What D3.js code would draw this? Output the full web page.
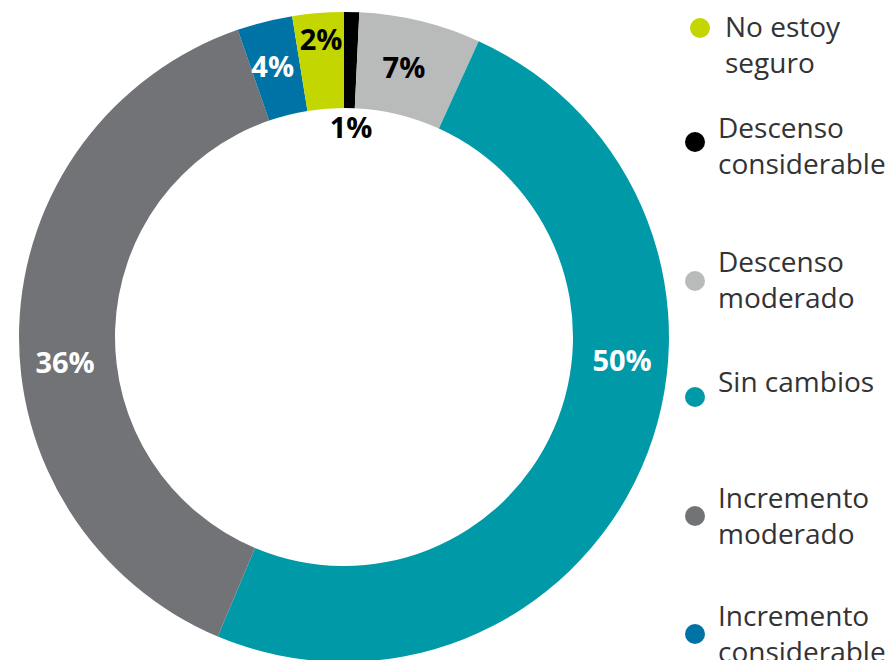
<!DOCTYPE html>
<html>
<head>
<meta charset="utf-8">
<title>Donut</title>
<script src="https://cdnjs.cloudflare.com/ajax/libs/d3/7.8.5/d3.min.js"></script>
<style>
body { margin: 0; background: #fff; }
svg { display: block; font-family: "Open Sans", sans-serif; }
.pct { font-weight: 700; font-size: 29px; }
.leg { font-size: 28px; fill: #333; }
</style>
</head>
<body>
<script>
// slices clockwise from 12 o'clock
var categories = ["Descenso considerable", "Descenso moderado", "Sin cambios",
                  "Incremento moderado", "Incremento considerable", "No estoy seguro"];
var values = [0.75, 6.05, 49.55, 38.35, 2.75, 2.55];
var labels = ["1%", "7%", "50%", "36%", "4%", "2%"];
var colors = ["#000000", "#b9baba", "#0099a8", "#727376", "#0073a6", "#c4d600"];
var labelColors = ["#000", "#000", "#fff", "#fff", "#fff", "#000"];

// legend, top to bottom
var legendOrder = ["No estoy seguro", "Descenso considerable", "Descenso moderado",
                   "Sin cambios", "Incremento moderado", "Incremento considerable"];
var legendLines = [["No estoy", "seguro"], ["Descenso", "considerable"], ["Descenso", "moderado"],
                   ["Sin cambios"], ["Incremento", "moderado"], ["Incremento", "considerable"]];

var width = 888, height = 660;
var cx = 344, cy = 337, rOuter = 325, rInner = 229;

// label placement (angle in degrees from top, radius)
var labelAngle = [1.9, 12.5, 94.7, 265, 345.3, 355.6];
var labelRadius = [211, 277, 279, 280, 281, 299];

// legend placement
var legMarkY = [28, 142, 281, 397, 516, 634];
var legTextY = [37, 138, 272, 392, 508, 626];
var legMarkX = [700, 695, 695, 695, 695, 695];
var legTextX = [725, 718, 718, 718, 718, 718];

var svg = d3.select("body").append("svg")
    .attr("width", width)
    .attr("height", height);

var pie = d3.pie().sort(null).value(function(d) { return d; });
var arc = d3.arc().innerRadius(rInner).outerRadius(rOuter);

var g = svg.append("g")
    .attr("transform", "translate(" + cx + "," + cy + ")");

g.selectAll("path.slice")
    .data(pie(values))
    .enter().append("path")
    .attr("class", "slice")
    .attr("d", arc)
    .attr("fill", function(d, i) { return colors[i]; });

g.selectAll("text.pct")
    .data(labels)
    .enter().append("text")
    .attr("class", "pct")
    .attr("text-anchor", "middle")
    .attr("dominant-baseline", "central")
    .attr("x", function(d, i) { return labelRadius[i] * Math.sin(labelAngle[i] * Math.PI / 180); })
    .attr("y", function(d, i) { return -labelRadius[i] * Math.cos(labelAngle[i] * Math.PI / 180); })
    .attr("fill", function(d, i) { return labelColors[i]; })
    .text(function(d) { return d; });

var color = d3.scaleOrdinal().domain(categories).range(colors);

var leg = svg.selectAll("g.legend")
    .data(legendOrder)
    .enter().append("g")
    .attr("class", "legend");

leg.append("circle")
    .attr("cx", function(d, i) { return legMarkX[i]; })
    .attr("cy", function(d, i) { return legMarkY[i]; })
    .attr("r", 10)
    .attr("fill", function(d) { return color(d); });

leg.append("text")
    .attr("class", "leg")
    .attr("y", function(d, i) { return legTextY[i]; })
    .each(function(d, i) {
        var t = d3.select(this);
        legendLines[i].forEach(function(line, j) {
            t.append("tspan")
                .attr("x", legTextX[i])
                .attr("dy", j === 0 ? 0 : 36)
                .text(line);
        });
    });
</script>
</body>
</html>
